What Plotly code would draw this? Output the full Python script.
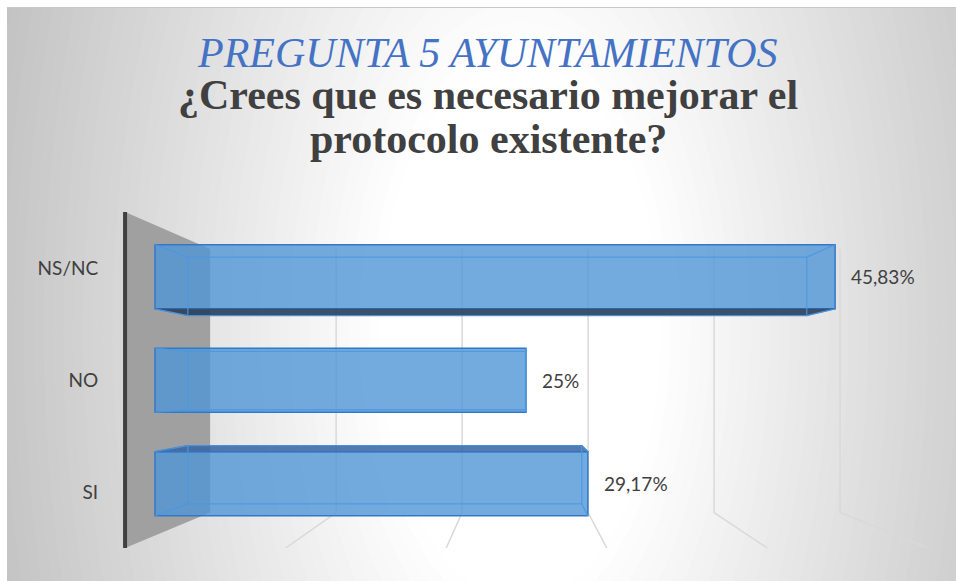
import plotly.graph_objects as go

# data
CATEGORIES = ["SI", "NO", "NS/NC"]
VALUES = [29.17, 25.0, 45.83]
GRID = [10, 20, 30, 40, 50]

TITLE_1 = "PREGUNTA 5 AYUNTAMIENTOS"
TITLE_2 = "¿Crees que es necesario mejorar el"
TITLE_3 = "protocolo existente?"

# fake 3d: vanishing point and depth scale of each plane (1 = front of bars)
VX, VY = 24.6, 0.97
K_EDGE, K_BACK, K_WALL = 1.082, 0.91, 0.849
Y_LO, Y_HI = -0.5, 2.5
HALF = 0.31

W, H = 956, 581
L, R, T, B = 110, 6, 212, 33


def proj(v, y, k):
    return VX + (v - VX) * k, VY + (y - VY) * k


def px(x):
    return (x - L) / (W - L - R)


def py(y):
    return (H - B - y) / (H - T - B)


def fmt(v):
    s = f"{v:.2f}".rstrip("0").rstrip(".")
    return s.replace(".", ",") + "%"


def path(points, close=False):
    s = "M " + " L ".join(f"{x},{y}" for x, y in points)
    return s + (" Z" if close else "")


EDGE_GRAY = "rgb(200,200,200)"

shapes = []
# radial background gradient, wider than tall
n = 50
for i in range(n + 1):
    t = 1.35 - 1.05 * i / n
    g = round(255 - 60 * min(max((t - 0.3) / 0.85, 0), 1))
    shapes.append(dict(type="circle", xref="paper", yref="paper",
                       x0=px(520 - 470 * t), x1=px(520 + 470 * t), y0=py(330 + 900 * t), y1=py(330 - 900 * t),
                       fillcolor=f"rgb({g},{g},{g})", line_width=0, layer="below"))
shapes.append(dict(type="rect", xref="paper", yref="paper", x0=px(0), x1=px(W + 20), y0=py(7), y1=py(-20),
                   fillcolor="white", line_width=0, layer="below"))
shapes.append(dict(type="rect", xref="paper", yref="paper", x0=px(-20), x1=px(7), y0=py(H + 20), y1=py(-20),
                   fillcolor="white", line_width=0, layer="below"))
shapes.append(dict(type="line", xref="paper", yref="paper", x0=px(7), x1=px(W + 20), y0=py(7.5), y1=py(7.5),
                   line=dict(color="rgb(200,200,200)", width=1), layer="below"))

# side wall
wall = [proj(0, Y_LO, K_EDGE), proj(0, Y_HI, K_EDGE), proj(0, Y_HI, K_WALL), proj(0, Y_LO, K_WALL)]
shapes.append(dict(type="path", xref="x", yref="y", path=path(wall, True),
                   fillcolor="rgb(160,160,160)", line_width=0, layer="below"))

# gridlines on back wall + floor
for gv in GRID:
    pts = [proj(gv, Y_HI, K_WALL), proj(gv, Y_LO, K_WALL), proj(gv, Y_LO, K_EDGE)]
    shapes.append(dict(type="path", xref="x", yref="y", path=path(pts),
                       line=dict(color="rgb(217,217,217)", width=1.5), layer="below"))

# axis line
a0, a1 = proj(0, Y_LO, K_EDGE), proj(0, Y_HI, K_EDGE)
shapes.append(dict(type="line", xref="x", yref="y", x0=a0[0], y0=a0[1], x1=a1[0], y1=a1[1],
                   line=dict(color="rgb(64,64,64)", width=4), layer="below"))

fig = go.Figure()

ypos = list(range(len(CATEGORIES)))
fig.add_trace(go.Bar(x=VALUES, y=ypos, orientation="h", width=2 * HALF,
                     marker=dict(color="rgba(80,150,215,0.8)", line=dict(color="rgb(50,120,200)", width=1.5)),
                     hoverinfo="skip"))

for v, y in zip(VALUES, ypos):
    lo, hi = y - HALF, y + HALF
    # top / bottom face that can be seen
    if lo > VY:
        face = [proj(0, lo, 1), proj(v, lo, 1), proj(v, lo, K_BACK), proj(0, lo, K_BACK), proj(0, lo, 1)]
        fig.add_trace(go.Scatter(x=[p[0] for p in face], y=[p[1] for p in face], mode="lines", fill="toself",
                                 fillcolor="rgba(40,62,90,0.9)", line=dict(color="rgba(50,100,160,0.9)", width=1),
                                 hoverinfo="skip"))
    if hi < VY:
        face = [proj(0, hi, 1), proj(v, hi, 1), proj(v, hi, K_BACK), proj(0, hi, K_BACK), proj(0, hi, 1)]
        fig.add_trace(go.Scatter(x=[p[0] for p in face], y=[p[1] for p in face], mode="lines", fill="toself",
                                 fillcolor="rgba(55,100,160,0.85)", line=dict(color="rgb(50,115,195)", width=1.2),
                                 hoverinfo="skip"))
    # back edges seen through the bar
    back = [proj(0, lo, K_BACK), proj(v, lo, K_BACK), proj(v, hi, K_BACK), proj(0, hi, K_BACK), proj(0, lo, K_BACK)]
    xs, ys = [p[0] for p in back], [p[1] for p in back]
    for vv, yy in [(0, lo), (v, lo), (v, hi), (0, hi)]:
        f, b = proj(vv, yy, 1), proj(vv, yy, K_BACK)
        xs += [None, f[0], b[0]]
        ys += [None, f[1], b[1]]
    fig.add_trace(go.Scatter(x=xs, y=ys, mode="lines", line=dict(color="rgba(75,150,225,0.85)", width=1.3),
                             hoverinfo="skip"))

annotations = []
for v, y in zip(VALUES, ypos):
    annotations.append(dict(x=v, y=y, xref="x", yref="y", text=fmt(v), showarrow=False,
                            xanchor="left", yanchor="middle", xshift=14,
                            font=dict(family="Lato", size=19, color="rgb(64,64,64)")))

title_font = dict(family="Liberation Serif", size=42, color="rgb(64,64,64)")
annotations.append(dict(x=px(487), y=py(53), xref="paper", yref="paper", text=f"<i>{TITLE_1}</i>",
                        xanchor="center", yanchor="middle", showarrow=False,
                        font=dict(family="Liberation Serif", size=42, color="rgb(68,114,196)")))
annotations.append(dict(x=px(488), y=py(95), xref="paper", yref="paper", text=f"<b>{TITLE_2}</b>",
                        xanchor="center", yanchor="middle", showarrow=False, font=title_font))
annotations.append(dict(x=px(488), y=py(139), xref="paper", yref="paper", text=f"<b>{TITLE_3}</b>",
                        xanchor="center", yanchor="middle", showarrow=False, font=title_font))

ylo = VY + (Y_LO - VY) * K_EDGE
yhi = VY + (Y_HI - VY) * K_EDGE
xlo = (L - 155) / 14.84
xhi = (W - R - 155) / 14.84

fig.update_layout(
    width=W, height=H,
    margin=dict(l=L, r=R, t=T, b=B),
    paper_bgcolor=EDGE_GRAY,
    plot_bgcolor="rgba(0,0,0,0)",
    showlegend=False,
    shapes=shapes,
    annotations=annotations,
    xaxis=dict(range=[xlo, xhi], visible=False, fixedrange=True),
    yaxis=dict(range=[ylo, yhi], showgrid=False, zeroline=False, showline=False,
               tickvals=[VY + (y - VY) * K_EDGE for y in ypos], ticktext=CATEGORIES,
               ticks="outside", ticklen=7, tickcolor="rgba(0,0,0,0)",
               tickfont=dict(family="Lato", size=19, color="rgb(64,64,64)"), fixedrange=True),
)

fig.write_html("out.html", config={"displayModeBar": False},
               post_script="document.body.style.margin='0';document.body.style.overflow='hidden';"
                           "document.body.style.background='rgb(200,200,200)';")
